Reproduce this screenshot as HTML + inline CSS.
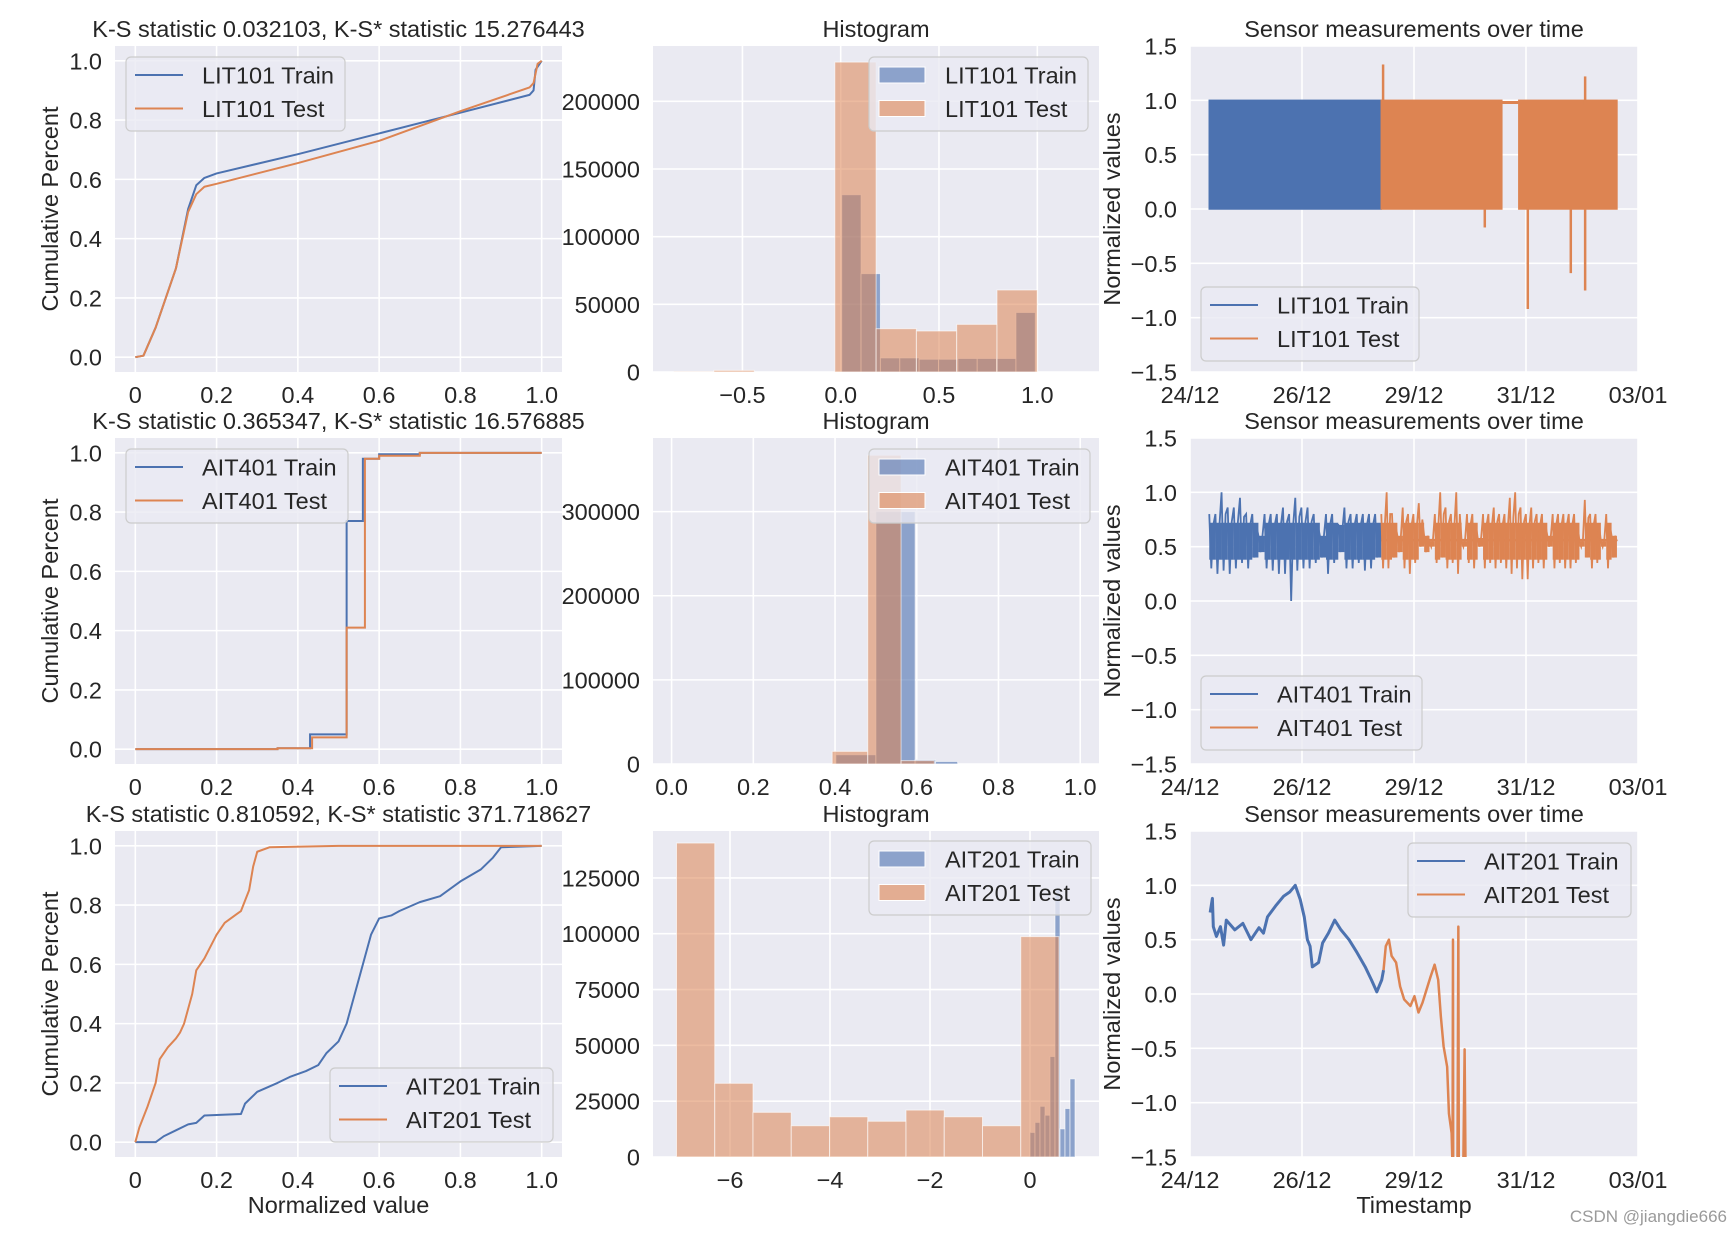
<!DOCTYPE html>
<html><head><meta charset="utf-8"><title>K-S statistics and sensor data charts</title>
<style>
html,body{margin:0;padding:0;background:#fff;}
svg{display:block;font-family:"Liberation Sans",Arial,sans-serif;}
</style></head>
<body>
<svg id="fig" width="1733" height="1239" viewBox="0 0 1733 1239" xmlns="http://www.w3.org/2000/svg"></svg>
<script>
// ---------- DATA ----------
const cdf1TrainX=[0,0.02,0.05,0.1,0.13,0.15,0.17,0.2,0.4,0.6,0.8,0.97,0.98,0.985,1.0];
const cdf1TrainY=[0,0.005,0.1,0.3,0.5,0.58,0.605,0.62,0.685,0.755,0.825,0.885,0.9,0.97,1.0];
const cdf1TestX=[0,0.02,0.05,0.1,0.13,0.15,0.17,0.2,0.4,0.6,0.7,0.8,0.97,0.98,0.99,1.0];
const cdf1TestY=[0,0.005,0.1,0.3,0.49,0.55,0.575,0.585,0.655,0.73,0.78,0.83,0.91,0.925,0.99,1.0];
const cdf2TrainX=[0,0.35,0.43,0.52,0.56,0.6,0.7,1.0];
const cdf2TrainY=[0,0.003,0.05,0.77,0.98,0.995,1.0,1.0];
const cdf2TestX=[0,0.35,0.435,0.52,0.565,0.6,0.7,1.0];
const cdf2TestY=[0,0.003,0.04,0.41,0.98,0.99,1.0,1.0];
const cdf3TrainX=[0,0.05,0.07,0.1,0.13,0.15,0.17,0.26,0.27,0.3,0.35,0.38,0.42,0.45,0.47,0.5,0.52,0.54,0.56,0.58,0.6,0.63,0.65,0.7,0.75,0.8,0.85,0.88,0.9,1.0];
const cdf3TrainY=[0,0,0.02,0.04,0.06,0.065,0.09,0.095,0.13,0.17,0.2,0.22,0.24,0.26,0.3,0.34,0.4,0.5,0.6,0.7,0.755,0.765,0.78,0.81,0.83,0.88,0.92,0.96,0.995,1.0];
const cdf3TestX=[0,0.01,0.03,0.05,0.06,0.08,0.1,0.11,0.12,0.14,0.15,0.17,0.2,0.22,0.25,0.26,0.28,0.29,0.3,0.33,0.5,1.0];
const cdf3TestY=[0,0.05,0.12,0.2,0.28,0.32,0.35,0.37,0.4,0.5,0.58,0.62,0.7,0.74,0.77,0.78,0.85,0.93,0.98,0.995,1.0,1.0];
const hist1TrainEdges=[0.005,0.1035,0.202,0.3005,0.399,0.4975,0.596,0.6945,0.793,0.8915,0.99];
const hist1TrainCounts=[131000,72700,10400,10400,9400,9400,10000,10000,10000,44000];
const hist1TestEdges=[-0.85,-0.645,-0.44,-0.235,-0.03,0.18,0.385,0.59,0.795,1.0];
const hist1TestCounts=[200,1200,0,0,229000,32000,30300,35200,60600];
const hist2TrainEdges=[0.402,0.50,0.596,0.646,0.70];
const hist2TrainCounts=[11000,300000,5000,3000];
const hist2TestEdges=[0.393,0.48,0.5616,0.643];
const hist2TestCounts=[15000,367000,4000];
const hist3TrainEdges=[0,0.1,0.2,0.3,0.4,0.5,0.6,0.7,0.8,0.9];
const hist3TrainCounts=[11000,15500,22700,18700,45000,120000,12600,21700,35000];
const hist3TestEdges=[-7.07,-6.305,-5.54,-4.775,-4.01,-3.245,-2.48,-1.715,-0.95,-0.185,0.58];
const hist3TestCounts=[140600,33000,20000,14000,18000,16000,21000,18000,14000,98700];
const lit101SegStart=[0.43,4.27,7.34];
const lit101SegEnd=[4.27,6.96,9.53];
const lit101SegLo=[0.0,0.0,0.0];
const lit101SegHi=[1.0,1.0,1.0];
const lit101SegSeries=['train','test','test'];
const lit101FlatT=[6.96,7.34];
const lit101FlatV=[0.98,0.98];
const lit101SpikeT=[4.31,6.58,7.54,8.5,8.82,8.82];
const lit101SpikeV=[1.33,-0.17,-0.92,-0.59,-0.75,1.22];
const ait401TrainStart=0.43, ait401TrainEnd=4.27;
const ait401TrainHi=[0.8,0.8,1.0,0.86,0.86,0.95,0.8,0.8,0.6,0.8,0.8,0.8,0.86,0.8,0.95,0.86,0.86,0.8,0.6,0.8,0.8,0.7,0.86,0.8,0.8,0.8,0.8,0.8];
const ait401TrainLo=[0.3,0.25,0.28,0.25,0.3,0.35,0.3,0.4,0.45,0.3,0.28,0.25,0.25,0.0,0.28,0.3,0.3,0.35,0.4,0.25,0.35,0.45,0.3,0.3,0.35,0.28,0.3,0.4];
const ait401TestStart=4.27, ait401TestEnd=9.53;
const ait401TestHi=[0.8,1.0,0.8,0.6,0.86,0.8,0.8,0.9,0.6,0.55,0.8,1.0,0.86,0.8,1.0,0.55,0.8,0.8,0.58,0.8,0.8,0.86,0.8,0.8,0.95,1.0,0.86,0.8,0.86,0.8,0.8,0.6,0.8,0.8,0.8,0.8,0.8,0.55,0.93,0.8,0.8,0.55,0.8,0.6];
const ait401TestLo=[0.3,0.3,0.4,0.45,0.3,0.25,0.35,0.5,0.45,0.5,0.35,0.4,0.3,0.35,0.25,0.5,0.35,0.3,0.5,0.3,0.35,0.3,0.35,0.3,0.25,0.3,0.2,0.2,0.3,0.35,0.3,0.5,0.3,0.35,0.3,0.3,0.35,0.5,0.4,0.3,0.35,0.5,0.3,0.4];
const ait401TestBase=0.56;
const ait201TrainT=[0.45,0.5,0.52,0.59,0.68,0.75,0.81,1.0,1.18,1.36,1.54,1.64,1.73,1.91,2.09,2.23,2.35,2.46,2.55,2.62,2.68,2.73,2.87,2.96,3.09,3.23,3.37,3.55,3.73,3.91,4.05,4.17,4.28,4.32];
const ait201TrainV=[0.75,0.88,0.62,0.53,0.62,0.45,0.68,0.59,0.65,0.5,0.61,0.56,0.71,0.81,0.9,0.94,1.0,0.87,0.71,0.5,0.44,0.25,0.29,0.47,0.56,0.68,0.59,0.5,0.38,0.25,0.13,0.02,0.13,0.22];
const ait201TestT=[4.32,4.37,4.44,4.5,4.6,4.69,4.78,4.92,5.01,5.1,5.19,5.28,5.37,5.46,5.54,5.6,5.66,5.74,5.78,5.84,5.86,5.87,5.875,5.92,5.97,5.99,6.0,6.03,6.1,6.13,6.15];
const ait201TestV=[0.22,0.44,0.5,0.35,0.29,0.07,-0.05,-0.11,-0.02,-0.17,-0.08,0.04,0.16,0.27,0.13,-0.21,-0.48,-0.67,-1.1,-1.28,-1.6,0.5,-1.6,-1.6,-1.6,0.62,-1.6,-1.6,-1.6,-0.51,-1.6];
const cdfXTicks=[0,0.2,0.4,0.6,0.8,1.0];
const cdfXLabels=['0','0.2','0.4','0.6','0.8','1.0'];
const cdfYTicks=[0,0.2,0.4,0.6,0.8,1.0];
const cdfYLabels=['0.0','0.2','0.4','0.6','0.8','1.0'];
const h1XTicks=[-0.5,0,0.5,1.0], h1XLabels=['\u22120.5','0.0','0.5','1.0'];
const h1YTicks=[0,50000,100000,150000,200000], h1YLabels=['0','50000','100000','150000','200000'];
const h2XTicks=[0,0.2,0.4,0.6,0.8,1.0], h2XLabels=['0.0','0.2','0.4','0.6','0.8','1.0'];
const h2YTicks=[0,100000,200000,300000], h2YLabels=['0','100000','200000','300000'];
const h3XTicks=[-6,-4,-2,0], h3XLabels=['\u22126','\u22124','\u22122','0'];
const h3YTicks=[0,25000,50000,75000,100000,125000], h3YLabels=['0','25000','50000','75000','100000','125000'];
const tsXTicks=[0,2.5,5,7.5,10], tsXLabels=['24/12','26/12','29/12','31/12','03/01'];
const tsYTicks=[-1.5,-1,-0.5,0,0.5,1,1.5], tsYLabels=['\u22121.5','\u22121.0','\u22120.5','0.0','0.5','1.0','1.5'];

// ---------- DRAWING ----------
const NS='http://www.w3.org/2000/svg';
const svg=document.getElementById('fig');
const BLUE='#4C72B0', ORANGE='#DD8452', TXT='#262626';
const COLX=[115,653,1190], COLW=[447,446,448], ROWY=[46,438,831], ROWH=326;
const FS=23.5;
let clipId=0;
function mk(tag,attrs,parent){const e=document.createElementNS(NS,tag);for(const k in attrs)e.setAttribute(k,attrs[k]);parent.appendChild(e);return e;}
function txt(parent,x,y,s,size,anchor,extra){const t=mk('text',Object.assign({x:x,y:y,'font-size':size,'text-anchor':anchor||'middle',fill:TXT},extra||{}),parent);t.textContent=s;return t;}

function axes(name,col,row,xd,yd,xt,xl,yt,yl){
  const bx=COLX[col],by=ROWY[row],bw=COLW[col],bh=ROWH;
  const g=mk('g',{},svg);
  
  
  const sx=v=>bx+(v-xd[0])/(xd[1]-xd[0])*bw;
  const sy=v=>by+bh-(v-yd[0])/(yd[1]-yd[0])*bh;
  const bg=mk('rect',{x:bx,y:by,width:bw,height:bh,fill:'#EAEAF2'},g);
  
  
  const grid=mk('g',{stroke:'#fff','stroke-width':1.6},g);
  
  
  const xa=mk('g',{},g);
  
  
  xt.forEach((v,i)=>{const X=sx(v);mk('line',{x1:X,x2:X,y1:by,y2:by+bh},grid);
    const t=txt(xa,X,by+bh+31,xl[i],FS,'middle');
    
    });
  const ya=mk('g',{},g);
  
  
  yt.forEach((v,i)=>{const Y=sy(v);mk('line',{x1:bx,x2:bx+bw,y1:Y,y2:Y},grid);
    const t=txt(ya,bx-13,Y+8.5,yl[i],FS,'end');
    
    });
  clipId++;
  const cp=mk('clipPath',{id:'cp'+clipId},g);
  mk('rect',{x:bx,y:by,width:bw,height:bh},cp);
  const plot=mk('g',{'clip-path':'url(#cp'+clipId+')'},g);
  
  
  return {g,plot,sx,sy,bx,by,bw,bh};
}
function title(ax,s){const t=txt(ax.g,ax.bx+ax.bw/2,ax.by-9,s,FS,'middle');
  
  }
function lineSeries(ax,xs,ys,color,name,w){
  const d=xs.map((x,i)=>(i?'L':'M')+ax.sx(x).toFixed(2)+' '+ax.sy(ys[i]).toFixed(2)).join('');
  const p=mk('path',{d:d,fill:'none',stroke:color,'stroke-width':w||2,'stroke-linejoin':'round'},ax.plot);
  
  
}
function stepSeries(ax,xs,ys,color,name){
  let d='M'+ax.sx(xs[0])+' '+ax.sy(ys[0]);
  for(let i=1;i<xs.length;i++){d+='H'+ax.sx(xs[i]).toFixed(2)+'V'+ax.sy(ys[i]).toFixed(2);}
  const p=mk('path',{d:d,fill:'none',stroke:color,'stroke-width':2},ax.plot);
  
  
}
function histSeries(ax,edges,counts,color,alpha,name){
  const g=mk('g',{},ax.plot);
  
  
  counts.forEach((c,i)=>{if(c<=0)return;
    const x0=ax.sx(edges[i]),x1=ax.sx(edges[i+1]),y=ax.sy(c);
    const r=mk('rect',{x:x0,y:y,width:Math.max(0.5,x1-x0),height:ax.sy(0)-y,fill:color,'fill-opacity':alpha,stroke:'#fff','stroke-opacity':0.6,'stroke-width':1},g);
    
    });
}
function legend(ax,dx,dy,w,entries,kind){
  const x=ax.bx+dx,y=ax.by+dy;
  const g=mk('g',{},ax.g);
  
  
  mk('rect',{x:x,y:y,width:w,height:74,rx:5,fill:'#EAEAF2','fill-opacity':0.8,stroke:'#CCCCCC','stroke-width':1.2},g);
  entries.forEach((e,i)=>{const cy=y+18+i*33.5;
    const eg=mk('g',{},g);
    
    
    if(kind==='patch'){mk('rect',{x:x+10,y:cy-8,width:46,height:16,fill:e[1],'fill-opacity':0.6,stroke:'#fff','stroke-width':1},eg);}
    else{mk('line',{x1:x+9,x2:x+57,y1:cy,y2:cy,stroke:e[1],'stroke-width':2},eg);}
    txt(eg,x+76,cy+8.5,e[0],23.5,'start');});
}
function yLabel(ax,s,xpos){const t=txt(svg,xpos,ax.by+ax.bh/2,s,FS,'middle',{transform:'rotate(-90 '+xpos+' '+(ax.by+ax.bh/2)+')'});
  
  }
function xLabel(ax,s){const t=txt(svg,ax.bx+ax.bw/2,1213,s,FS,'middle');
  
  }
function envelope(ax,start,end,hi,lo,color,name){
  const n=hi.length,w=(end-start)/n;
  const g=mk('g',{},ax.plot);
  
  
  let d='';
  hi.forEach((h,i)=>{const t=start+i*w;
    d+=(i?'L':'M')+ax.sx(t).toFixed(2)+' '+ax.sy(h).toFixed(2)+'L'+ax.sx(t+w*0.33).toFixed(2)+' '+ax.sy(lo[i]).toFixed(2)+'L'+ax.sx(t+w*0.66).toFixed(2)+' '+ax.sy((h+0.6)/2).toFixed(2);
    const a=Math.min(h,0.72),b=Math.max(lo[i],0.38);
    if(a>b)mk('rect',{x:ax.sx(t),y:ax.sy(a),width:ax.sx(t+w)-ax.sx(t),height:ax.sy(b)-ax.sy(a),fill:color},g);});
  d+='L'+ax.sx(end).toFixed(2)+' '+ax.sy(0.55).toFixed(2);
  mk('path',{d:d,fill:'none',stroke:color,'stroke-width':1.8,'stroke-linejoin':'miter'},g);
}

// ===== Row 1 =====
const a11=axes('cdf-lit101',0,0,[-0.05,1.05],[-0.05,1.05],cdfXTicks,cdfXLabels,cdfYTicks,cdfYLabels);
title(a11,'K-S statistic 0.032103, K-S* statistic 15.276443');
lineSeries(a11,cdf1TrainX,cdf1TrainY,BLUE,'cdf-train-line');
lineSeries(a11,cdf1TestX,cdf1TestY,ORANGE,'cdf-test-line');
legend(a11,11,11,219,[['LIT101 Train',BLUE],['LIT101 Test',ORANGE]],'line');
yLabel(a11,'Cumulative Percent',58);

const a12=axes('hist-lit101',1,0,[-0.955,1.314],[0,240900],h1XTicks,h1XLabels,h1YTicks,h1YLabels);
title(a12,'Histogram');
histSeries(a12,hist1TrainEdges,hist1TrainCounts,BLUE,0.6,'hist-train-bars');
histSeries(a12,hist1TestEdges,hist1TestCounts,ORANGE,0.55,'hist-test-bars');
legend(a12,216,11,219,[['LIT101 Train',BLUE],['LIT101 Test',ORANGE]],'patch');

const a13=axes('timeseries-lit101',2,0,[0,10],[-1.5,1.5],tsXTicks,tsXLabels,tsYTicks,tsYLabels);
title(a13,'Sensor measurements over time');
{const g=mk('g',{},a13.plot);
 
 
 lineSeries(a13,lit101FlatT,lit101FlatV,ORANGE,'test-flat-line',3);
 lit101SegStart.forEach((s,i)=>{const c=lit101SegSeries[i]==='train'?BLUE:ORANGE;
   const r=mk('rect',{x:a13.sx(s),y:a13.sy(lit101SegHi[i]),width:a13.sx(lit101SegEnd[i])-a13.sx(s),height:a13.sy(lit101SegLo[i])-a13.sy(lit101SegHi[i]),fill:c,stroke:c,'stroke-width':1.5},g);
   
   });
 lit101SpikeT.forEach((t,i)=>{const v=lit101SpikeV[i];const base=v>0.5?0.95:0.05;
   const l=mk('line',{x1:a13.sx(t),x2:a13.sx(t),y1:a13.sy(base),y2:a13.sy(v),stroke:ORANGE,'stroke-width':2.5},g);
   
   });}
legend(a13,11,241,218,[['LIT101 Train',BLUE],['LIT101 Test',ORANGE]],'line');
yLabel(a13,'Normalized values',1120);

// ===== Row 2 =====
const a21=axes('cdf-ait401',0,1,[-0.05,1.05],[-0.05,1.05],cdfXTicks,cdfXLabels,cdfYTicks,cdfYLabels);
title(a21,'K-S statistic 0.365347, K-S* statistic 16.576885');
stepSeries(a21,cdf2TrainX,cdf2TrainY,BLUE,'cdf-train-line');
stepSeries(a21,cdf2TestX,cdf2TestY,ORANGE,'cdf-test-line');
legend(a21,11,11,222,[['AIT401 Train',BLUE],['AIT401 Test',ORANGE]],'line');
yLabel(a21,'Cumulative Percent',58);

const a22=axes('hist-ait401',1,1,[-0.0455,1.046],[0,387500],h2XTicks,h2XLabels,h2YTicks,h2YLabels);
title(a22,'Histogram');
histSeries(a22,hist2TrainEdges,hist2TrainCounts,BLUE,0.6,'hist-train-bars');
histSeries(a22,hist2TestEdges,hist2TestCounts,ORANGE,0.55,'hist-test-bars');
legend(a22,216,11,221,[['AIT401 Train',BLUE],['AIT401 Test',ORANGE]],'patch');

const a23=axes('timeseries-ait401',2,1,[0,10],[-1.5,1.5],tsXTicks,tsXLabels,tsYTicks,tsYLabels);
title(a23,'Sensor measurements over time');
lineSeries(a23,[ait401TestStart,ait401TestEnd],[ait401TestBase,ait401TestBase],ORANGE,'test-baseline',2.5);
envelope(a23,ait401TrainStart,ait401TrainEnd,ait401TrainHi,ait401TrainLo,BLUE,'ait401-train-series');
envelope(a23,ait401TestStart,ait401TestEnd,ait401TestHi,ait401TestLo,ORANGE,'ait401-test-series');
legend(a23,11,238,221,[['AIT401 Train',BLUE],['AIT401 Test',ORANGE]],'line');
yLabel(a23,'Normalized values',1120);

// ===== Row 3 =====
const a31=axes('cdf-ait201',0,2,[-0.05,1.05],[-0.05,1.05],cdfXTicks,cdfXLabels,cdfYTicks,cdfYLabels);
title(a31,'K-S statistic 0.810592, K-S* statistic 371.718627');
lineSeries(a31,cdf3TrainX,cdf3TrainY,BLUE,'cdf-train-line');
lineSeries(a31,cdf3TestX,cdf3TestY,ORANGE,'cdf-test-line');
legend(a31,215,237,223,[['AIT201 Train',BLUE],['AIT201 Test',ORANGE]],'line');
yLabel(a31,'Cumulative Percent',58);
xLabel(a31,'Normalized value');

const a32=axes('hist-ait201',1,2,[-7.54,1.38],[0,146000],h3XTicks,h3XLabels,h3YTicks,h3YLabels);
title(a32,'Histogram');
histSeries(a32,hist3TrainEdges,hist3TrainCounts,BLUE,0.6,'hist-train-bars');
histSeries(a32,hist3TestEdges,hist3TestCounts,ORANGE,0.55,'hist-test-bars');
legend(a32,216,10,222,[['AIT201 Train',BLUE],['AIT201 Test',ORANGE]],'patch');

const a33=axes('timeseries-ait201',2,2,[0,10],[-1.5,1.5],tsXTicks,tsXLabels,tsYTicks,tsYLabels);
title(a33,'Sensor measurements over time');
lineSeries(a33,ait201TrainT,ait201TrainV,BLUE,'ait201-train-line',3);
lineSeries(a33,ait201TestT,ait201TestV,ORANGE,'ait201-test-line',2.5);
legend(a33,218,12,223,[['AIT201 Train',BLUE],['AIT201 Test',ORANGE]],'line');
yLabel(a33,'Normalized values',1120);
xLabel(a33,'Timestamp');

const wm=txt(svg,1727,1222,'CSDN @jiangdie666',17,'end',{fill:'#9a9a9a'});


</script>
</body></html>
